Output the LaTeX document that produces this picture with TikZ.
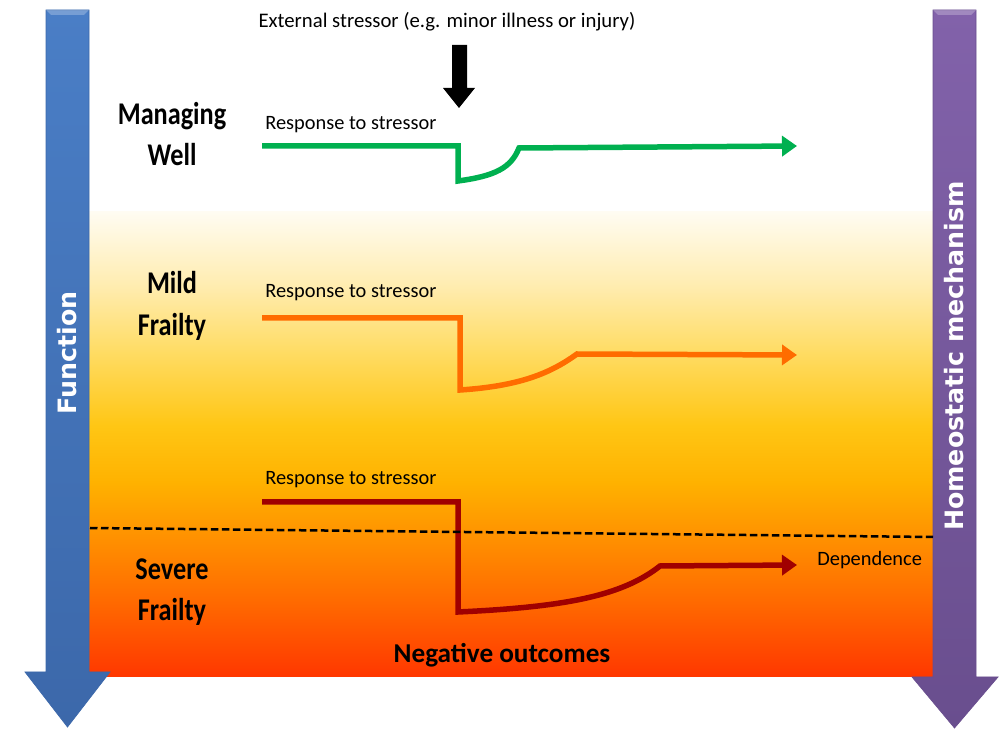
\documentclass[tikz,border=0pt]{standalone}
\usepackage{fontspec}
\setmainfont{Carlito}
\newfontfamily\barfont{DejaVu Sans}
\usetikzlibrary{arrows.meta}

\definecolor{wellgreen}{RGB}{0,176,80}
\definecolor{mildorange}{RGB}{255,108,0}
\definecolor{severered}{RGB}{160,0,0}
\definecolor{funcblue}{RGB}{74,126,198}
\definecolor{funcbluedark}{RGB}{60,104,170}
\definecolor{homeopurple}{RGB}{130,98,170}
\definecolor{homeopurpledark}{RGB}{105,78,142}

\definecolor{bgA}{RGB}{255,55,0}
\definecolor{bgB}{RGB}{255,105,0}
\definecolor{bgC}{RGB}{255,145,0}
\definecolor{bgD}{RGB}{255,178,0}
\definecolor{bgE}{RGB}{255,198,20}
\definecolor{bgF}{RGB}{255,220,100}
\definecolor{bgG}{RGB}{255,236,175}
\definecolor{bgH}{RGB}{255,252,242}
\pgfdeclareverticalshading{frailtybg}{100bp}{color(0bp)=(bgA); color(25bp)=(bgA);
  color(33bp)=(bgB); color(40bp)=(bgC); color(46bp)=(bgD); color(52bp)=(bgE);
  color(60bp)=(bgF); color(67bp)=(bgG); color(75bp)=(bgH); color(100bp)=(bgH)}

\begin{document}
\begin{tikzpicture}[
    x=0.02cm, y=-0.02cm,
    state/.style={font=\fontsize{18}{23.5}\selectfont\bfseries, align=center, xscale=0.83, inner sep=0},
    resp/.style={font=\fontsize{11.6}{13}\selectfont, anchor=west, inner sep=0},
    note/.style={font=\fontsize{11.8}{14}\selectfont, inner sep=0},
    bartext/.style={font=\barfont\fontsize{14.4}{16}\selectfont\bfseries, text=white, rotate=90, inner sep=0},
    curve/.style={line width=0.11cm, -{Triangle[length=0.3cm,width=0.4cm]}},
    limit/.style={dashed, line width=0.05cm, dash pattern=on 0.15cm off 0.07cm}
]
    \useasboundingbox (0,0) rectangle (1005,729);

    \shade[shading=frailtybg] (89,212) rectangle (933,677);

    \shade[top color=funcblue, bottom color=funcbluedark, draw=funcbluedark]
        (46,10) -- (89,10) -- (89,672) -- (110,672) -- (67.5,727) -- (25,672) -- (46,672) -- cycle;
    \fill[white, opacity=0.25] (46,10) -- (89,10) -- (84,15) -- (51,15) -- cycle;
    \shade[top color=homeopurple, bottom color=homeopurpledark, draw=homeopurpledark]
        (933,10) -- (976,10) -- (976,677) -- (998,677) -- (954.5,728) -- (912,677) -- (933,677) -- cycle;
    \fill[white, opacity=0.25] (933,10) -- (976,10) -- (971,15) -- (938,15) -- cycle;

    \node[bartext] (function) at (67.5,353) {Function};
    \node[bartext] (homeo) at (954.5,356) {Homeostatic mechanism};

    \node[note] (stressor) at (447,22) {External stressor (e.g. minor illness or injury)};
    \fill (452,45) -- (467,45) -- (467,88) -- (475,88) -- (459,108) -- (443,88) -- (452,88) -- cycle;

    \node[state] (well) at (172,134) {Managing\\Well};
    \node[state] (mild) at (172,306) {Mild\\Frailty};
    \node[state] (severe) at (172,592) {Severe\\Frailty};

    \node[resp] (respwell) at (265,125) {Response to stressor};
    \node[resp] (respmild) at (265,293) {Response to stressor};
    \node[resp] (respsevere) at (265,480) {Response to stressor};

    \coordinate (wellstart) at (262,146);
    \coordinate (wellend) at (797,146);
    \coordinate (mildstart) at (262,318);
    \coordinate (mildend) at (797,355);
    \coordinate (severestart) at (262,502);
    \coordinate (severeend) at (797,565);

    \draw[curve, wellgreen] (wellstart) -- (458,146) -- (458,181)
        .. controls (495,176) and (511,168) .. (519,148) -- (wellend);
    \draw[curve, mildorange] (mildstart) -- (460,318) -- (460,390)
        .. controls (522,386) and (552,372) .. (577,354) -- (mildend);
    \draw[curve, severered] (severestart) -- (458,502) -- (458,612)
        .. controls (565,607) and (622,596) .. (660,566) -- (severeend);

    \draw[limit] (90,528) -- (933,537);

    \node[resp] (dependence) at (817,560) {Dependence};
    \node[font=\fontsize{15.5}{18}\selectfont\bfseries, inner sep=0] (negative) at (502,655) {Negative outcomes};
\end{tikzpicture}
\end{document}
